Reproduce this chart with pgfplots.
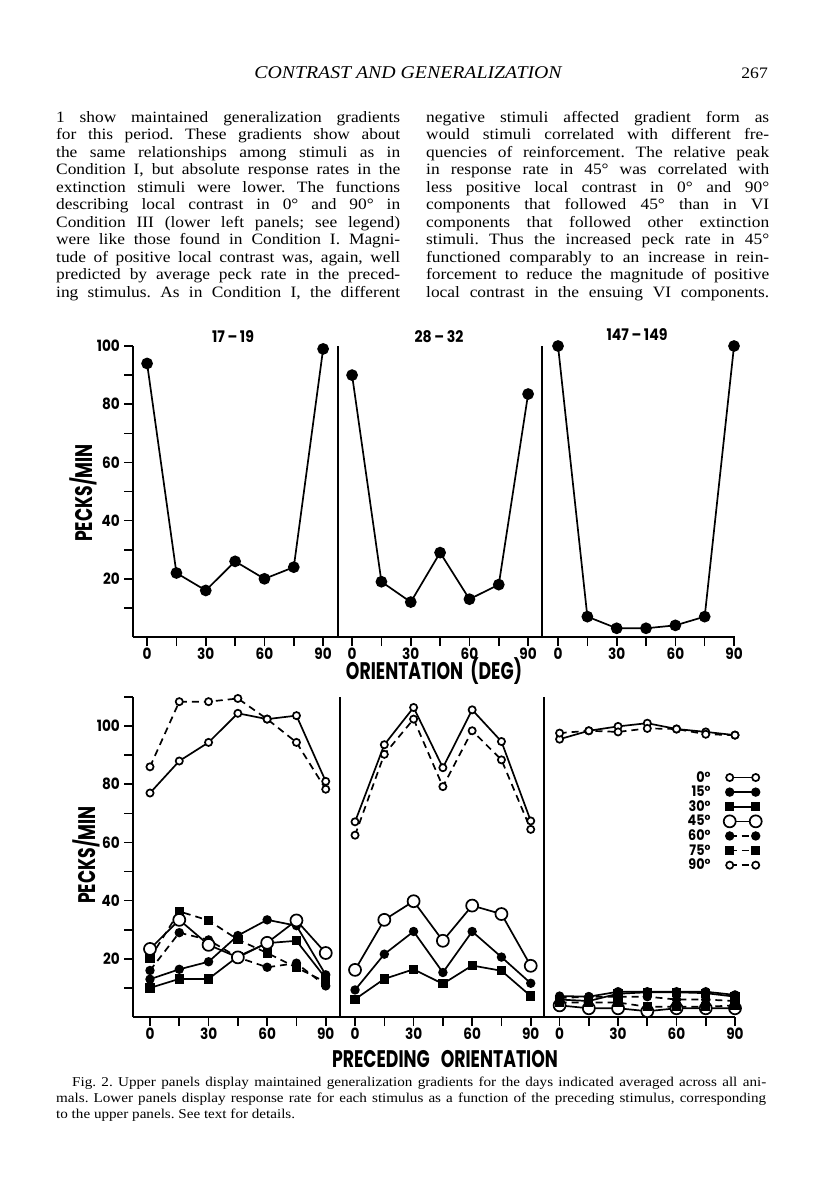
\documentclass[border=0pt]{standalone}
\usepackage{fontspec}
\setmainfont{Liberation Serif}[FakeStretch=1.1]
\newfontfamily\capfont{Liberation Serif}[FakeStretch=1.12]
\newfontfamily\cf{Poppins}[FakeStretch=0.88]
\newfontfamily\cfn{Poppins}[FakeStretch=0.72]
\usepackage{pgfplots}
\pgfplotsset{compat=1.18}
\newcommand\jl[2]{\hbox to #1{#2}}
\newcommand\tf{\cf\bfseries\fontsize{15.5}{15.5}\selectfont}
\frenchspacing
\pgfplotsset{
 panel/.style={scale only axis, axis x line=bottom, axis y line=left,
   axis line style={-, line width=1.6pt}, tick style={line width=1.6pt, black},
   major tick length=9pt, tick align=outside,
   xtick={0,15,...,90}, xticklabels={0,,30,,60,,90},
   ticklabel style={font=\tf},
   xticklabel style={text height=10.8pt, text depth=0pt, inner sep=2.5pt},
   yticklabel style={inner sep=4pt},
   /pgf/number format/assume math mode=true, clip=false,
   every axis plot/.append style={line width=1.7pt, black}},
 s0/.style={solid, mark=*, mark size=3.6pt, mark options={fill=white, solid}},
 s15/.style={solid, mark=*, mark size=3.8pt, mark options={solid}},
 s30/.style={solid, mark=square*, mark size=3.8pt, mark options={solid}},
 s45/.style={solid, mark=*, mark size=6pt, mark options={fill=white, solid}},
 s60/.style={dash pattern=on 7pt off 5pt, mark=*, mark size=3.8pt, mark options={solid}},
 s75/.style={dash pattern=on 7pt off 5pt, mark=square*, mark size=3.8pt, mark options={solid}},
 s90/.style={dash pattern=on 7pt off 5pt, mark=*, mark size=3.6pt, mark options={fill=white, solid}},
}
\begin{document}
\begin{tikzpicture}
\path[use as bounding box, fill=white] (0pt,0pt) rectangle (816pt,-1200pt);
% header
\node[font=\itshape\fontsize{18}{18}\selectfont, anchor=base, inner sep=0pt] at (408pt,-78pt) {CONTRAST AND GENERALIZATION};
\node[font=\fontsize{16}{16}\selectfont, anchor=base east, inner sep=0pt] at (768pt,-78pt) {267};
% text columns
\begin{scope}[every node/.style={anchor=base west, inner sep=0pt, font=\fontsize{15.8}{17.5}\selectfont}]
\node at (56pt,-122pt) {\jl{344pt}{1 show maintained generalization gradients}};
\node at (56pt,-139.5pt) {\jl{344pt}{for this period. These gradients show about}};
\node at (56pt,-157pt) {\jl{344pt}{the same relationships among stimuli as in}};
\node at (56pt,-174.5pt) {\jl{344pt}{Condition I, but absolute response rates in the}};
\node at (56pt,-192pt) {\jl{344pt}{extinction stimuli were lower. The functions}};
\node at (56pt,-209.5pt) {\jl{344pt}{describing local contrast in 0° and 90° in}};
\node at (56pt,-227pt) {\jl{344pt}{Condition III (lower left panels; see legend)}};
\node at (56pt,-244.5pt) {\jl{344pt}{were like those found in Condition I. Magni-}};
\node at (56pt,-262pt) {\jl{344pt}{tude of positive local contrast was, again, well}};
\node at (56pt,-279.5pt) {\jl{344pt}{predicted by average peck rate in the preced-}};
\node at (56pt,-297pt) {\jl{344pt}{ing stimulus. As in Condition I, the different}};
\node at (426pt,-122pt) {\jl{343pt}{negative stimuli affected gradient form as}};
\node at (426pt,-139.5pt) {\jl{343pt}{would stimuli correlated with different fre-}};
\node at (426pt,-157pt) {\jl{343pt}{quencies of reinforcement. The relative peak}};
\node at (426pt,-174.5pt) {\jl{343pt}{in response rate in 45° was correlated with}};
\node at (426pt,-192pt) {\jl{343pt}{less positive local contrast in 0° and 90°}};
\node at (426pt,-209.5pt) {\jl{343pt}{components that followed 45° than in VI}};
\node at (426pt,-227pt) {\jl{343pt}{components that followed other extinction}};
\node at (426pt,-244.5pt) {\jl{343pt}{stimuli. Thus the increased peck rate in 45°}};
\node at (426pt,-262pt) {\jl{343pt}{functioned comparably to an increase in rein-}};
\node at (426pt,-279.5pt) {\jl{343pt}{forcement to reduce the magnitude of positive}};
\node at (426pt,-297pt) {\jl{343pt}{local contrast in the ensuing VI components.}};
\end{scope}
% caption
\begin{scope}[every node/.style={anchor=base west, inner sep=0pt, font=\capfont\fontsize{13.5}{16}\selectfont}]
\node at (72pt,-1086pt) {\jl{694pt}{Fig. 2. Upper panels display maintained generalization gradients for the days indicated averaged across all ani-}};
\node at (56pt,-1102pt) {\jl{710pt}{mals. Lower panels display response rate for each stimulus as a function of the preceding stimulus, corresponding}};
\node at (56pt,-1118pt) {to the upper panels. See text for details.};
\end{scope}
% chart labels
\begin{scope}[every node/.style={font=\cf\bfseries\fontsize{16}{16}\selectfont, inner sep=0pt}]
\node at (233pt,-337pt) {17\,\textendash\,19};
\node at (439pt,-337pt) {28\,\textendash\,32};
\node at (637pt,-335pt) {147\,\textendash\,149};
\node[font=\cfn\bfseries\fontsize{24}{24}\selectfont] at (434pt,-671pt) {ORIENTATION\ \ (DEG)};
\node[font=\cfn\bfseries\fontsize{24}{24}\selectfont] at (445pt,-1059pt) {PRECEDING\ \ \ ORIENTATION};
\node[font=\cfn\bfseries\fontsize{24}{24}\selectfont, rotate=90] at (83pt,-493pt) {PECKS/MIN};
\node[font=\cfn\bfseries\fontsize{24}{24}\selectfont, rotate=90] at (86pt,-855pt) {PECKS/MIN};
\end{scope}
% ---------- upper panels ----------
\begin{axis}[panel, at={(133pt,-637pt)}, anchor=south west, width=205pt, height=291pt,
  xmin=-7.2, xmax=97.6, ymin=0, ymax=100,
  ytick={10,20,...,100}, yticklabels={,20,,40,,60,,80,,100}]
\addplot[mark=*, mark size=5pt] coordinates {(0,94)(15,22)(30,16)(45,26)(60,20)(75,24)(90,99)};
\end{axis}
\begin{axis}[panel, at={(338pt,-637pt)}, anchor=south west, width=204pt, height=291pt,
  xmin=-7.2, xmax=97.1, ymin=0, ymax=100, ytick=\empty]
\addplot[mark=*, mark size=5pt] coordinates {(0,90)(15,19)(30,12)(45,29)(60,13)(75,18)(90,83.5)};
\end{axis}
\begin{axis}[panel, at={(542pt,-637pt)}, anchor=south west, width=193pt, height=291pt,
  xmin=-8.2, xmax=90.5, ymin=0, ymax=100, ytick=\empty]
\addplot[mark=*, mark size=5pt] coordinates {(0,100)(15,7)(30,3)(45,3)(60,4)(75,7)(90,100)};
\end{axis}
% ---------- lower panels ----------
\begin{axis}[panel, at={(133pt,-1017pt)}, anchor=south west, width=207pt, height=320pt,
  xmin=-8.7, xmax=97.3, ymin=0, ymax=110,
  ytick={10,20,...,110}, yticklabels={,20,,40,,60,,80,,100,}]
\addplot[s0]  coordinates {(0,77)(15,88)(30,94.4)(45,104.4)(60,102.4)(75,103.6)(90,81)};
\addplot[s90] coordinates {(0,86)(15,108.4)(30,108.4)(45,109.5)(60,102.4)(75,94.4)(90,78.3)};
\addplot[s15] coordinates {(0,13)(15,16.4)(30,19)(45,28)(60,33.4)(75,31.4)(90,14.5)};
\addplot[s30] coordinates {(0,10)(15,13.1)(30,13.1)(45,20.8)(60,25.4)(75,26.2)(90,13.3)};
\addplot[s60] coordinates {(0,16)(15,29)(30,26.5)(45,20.5)(60,17.1)(75,18.5)(90,10.7)};
\addplot[s75] coordinates {(0,20.2)(15,36.3)(30,33.2)(45,26.6)(60,22)(75,17)(90,12)};
\addplot[s45] coordinates {(0,23.4)(15,33.4)(30,24.8)(45,20.5)(60,25.5)(75,33.2)(90,22)};
\end{axis}
\begin{axis}[panel, at={(340pt,-1017pt)}, anchor=south west, width=204pt, height=320pt,
  xmin=-7.7, xmax=96.8, ymin=0, ymax=110, ytick=\empty]
\addplot[s0]  coordinates {(0,67.1)(15,93.6)(30,106.4)(45,85.7)(60,105.6)(75,94.7)(90,67.4)};
\addplot[s90] coordinates {(0,62.5)(15,90.3)(30,102.4)(45,79.2)(60,98.4)(75,88.4)(90,64.5)};
\addplot[s15] coordinates {(0,9.3)(15,21.6)(30,29.4)(45,15.3)(60,29.4)(75,20.6)(90,11.6)};
\addplot[s30] coordinates {(0,6.1)(15,13.1)(30,16.4)(45,11.4)(60,17.7)(75,15.9)(90,7.2)};
\addplot[s45] coordinates {(0,16.2)(15,33.4)(30,39.8)(45,26.2)(60,38.3)(75,35.4)(90,17.6)};
\end{axis}
\begin{axis}[panel, at={(544pt,-1017pt)}, anchor=south west, width=191pt, height=320pt,
  xmin=-8, xmax=90, ymin=0, ymax=110, ytick=\empty,
  legend plot pos=right, legend cell align=right,
  legend style={draw=none, fill=none, at={(1.141,0.772)}, anchor=north east,
    font=\cf\bfseries\fontsize{14.5}{14.5}\selectfont, row sep=0pt, inner sep=0pt,
    column sep=12pt, nodes={inner sep=1.2pt}},
  legend image code/.code={\draw[mark repeat=1, mark phase=1, #1] plot coordinates {(0pt,0pt) (26pt,0pt)};}]
\addplot[s0]  coordinates {(0,95.5)(15,98.4)(30,99.9)(45,101)(60,99)(75,98)(90,96.9)};
\addplot[s15] coordinates {(0,7.2)(15,7)(30,8.7)(45,8.7)(60,8.7)(75,8.7)(90,7.6)};
\addplot[s30] coordinates {(0,6)(15,5.5)(30,8)(45,8.5)(60,8.5)(75,8.2)(90,7)};
\addplot[s45] coordinates {(0,4)(15,3)(30,3)(45,2)(60,3)(75,3)(90,3)};
\addplot[s60] coordinates {(0,6.5)(15,7)(30,7)(45,7)(60,6)(75,6)(90,5.5)};
\addplot[s75] coordinates {(0,5)(15,5)(30,5)(45,3.5)(60,3.5)(75,3.5)(90,4)};
\addplot[s90] coordinates {(0,97.6)(15,98.4)(30,98)(45,99.2)(60,99)(75,97.2)(90,96.9)};
\legend{0°,15°,30°,45°,60°,75°,90°}
\end{axis}
\end{tikzpicture}
\end{document}
